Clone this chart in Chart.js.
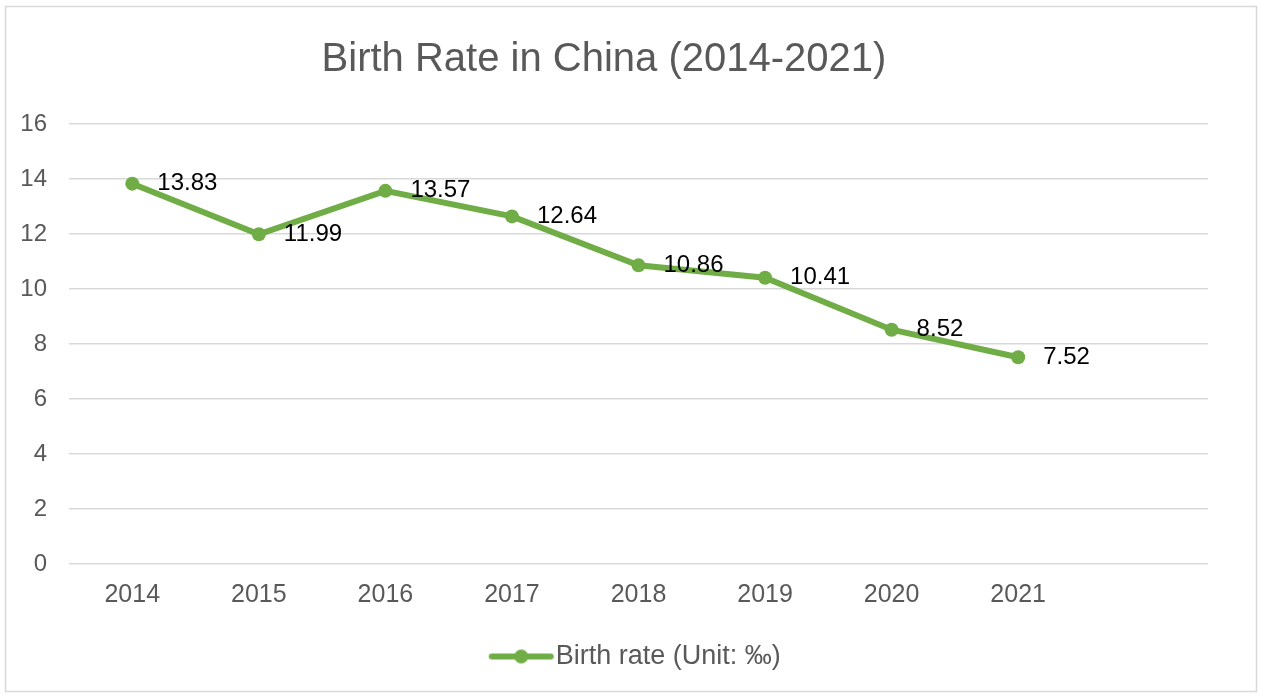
<!DOCTYPE html>
<html>
<head>
<meta charset="utf-8">
<script src="https://cdn.jsdelivr.net/npm/chart.js@4/dist/chart.umd.min.js"></script>
<style>
  body { margin: 0; background: #fff; }
  #wrap { width: 1264px; height: 699px; }
</style>
</head>
<body>
<div id="wrap"><canvas id="mycanvas" width="1264" height="699"></canvas></div>
<script>
var years = ['2014', '2015', '2016', '2017', '2018', '2019', '2020', '2021'];
var birthRate = [13.83, 11.99, 13.57, 12.64, 10.86, 10.41, 8.52, 7.52];
var yTicks = [0, 2, 4, 6, 8, 10, 12, 14, 16];
var seriesName = 'Birth rate (Unit: \u2030)';
var chartTitle = 'Birth Rate in China (2014-2021)';

var green = '#70AD47';
var grey = '#595959';
var fontName = "'Liberation Sans', Arial, sans-serif";

// legend marker: line with a dot, drawn off-centre so it ends right before the text
var marker = document.createElement('canvas');
marker.width = 160;
marker.height = 18;
var mctx = marker.getContext('2d');
mctx.strokeStyle = green;
mctx.lineWidth = 6;
mctx.lineCap = 'round';
mctx.beginPath();
mctx.moveTo(87, 9);
mctx.lineTo(146, 9);
mctx.stroke();
mctx.fillStyle = green;
mctx.beginPath();
mctx.arc(116.5, 9, 7, 0, Math.PI * 2);
mctx.fill();

var frame = {
  id: 'frame',
  beforeDraw: function(chart) {
    var c = chart.ctx;
    c.save();
    c.fillStyle = '#fff';
    c.fillRect(0, 0, chart.width, chart.height);
    c.strokeStyle = '#D9D9D9';
    c.lineWidth = 1.5;
    c.strokeRect(5.5, 6.5, 1251, 685);
    c.restore();
  }
};

var valueLabels = {
  id: 'valueLabels',
  afterDatasetsDraw: function(chart) {
    var c = chart.ctx;
    var meta = chart.getDatasetMeta(0);
    c.save();
    c.font = '24px ' + fontName;
    c.fillStyle = '#000';
    c.textAlign = 'left';
    c.textBaseline = 'middle';
    meta.data.forEach(function(pt, i) {
      c.fillText(birthRate[i].toFixed(2), pt.x + 25, pt.y);
    });
    c.restore();
  }
};

var ctx = document.getElementById('mycanvas');

var lineChart = new Chart(ctx, {
  type: 'line',
  data: {
    labels: years.concat(['']),
    datasets: [{
      label: seriesName,
      data: birthRate,
      borderColor: green,
      backgroundColor: green,
      borderWidth: 6,
      pointRadius: 7,
      pointHoverRadius: 7,
      pointBackgroundColor: green,
      pointBorderWidth: 0,
      tension: 0
    }]
  },
  options: {
    responsive: false,
    animation: false,
    layout: { padding: { left: 0, right: 56, top: 0, bottom: 19 } },
    plugins: {
      title: {
        display: true,
        text: chartTitle,
        color: grey,
        font: { family: fontName, size: 40, weight: 'normal' },
        padding: { top: 36, bottom: 40 }
      },
      legend: {
        position: 'bottom',
        labels: {
          color: grey,
          font: { family: fontName, size: 27 },
          usePointStyle: true,
          pointStyle: marker,
          pointStyleWidth: 115,
          padding: 21
        }
      },
      tooltip: { enabled: false }
    },
    scales: {
      x: {
        offset: true,
        grid: { display: false },
        border: { display: false },
        ticks: {
          color: grey,
          font: { family: fontName, size: 25 },
          padding: 8,
          maxRotation: 0
        },
        afterFit: function(scale) { scale.height = 58; }
      },
      y: {
        min: 0,
        max: 16,
        afterBuildTicks: function(scale) {
          scale.ticks = yTicks.map(function(v) { return { value: v }; });
        },
        grid: { color: '#D9D9D9', lineWidth: 1.5, drawTicks: false },
        border: { display: false },
        ticks: {
          color: grey,
          font: { family: fontName, size: 24 },
          padding: 22
        },
        afterFit: function(scale) { scale.width = 69; }
      }
    }
  },
  plugins: [frame, valueLabels]
});
</script>
</body>
</html>
